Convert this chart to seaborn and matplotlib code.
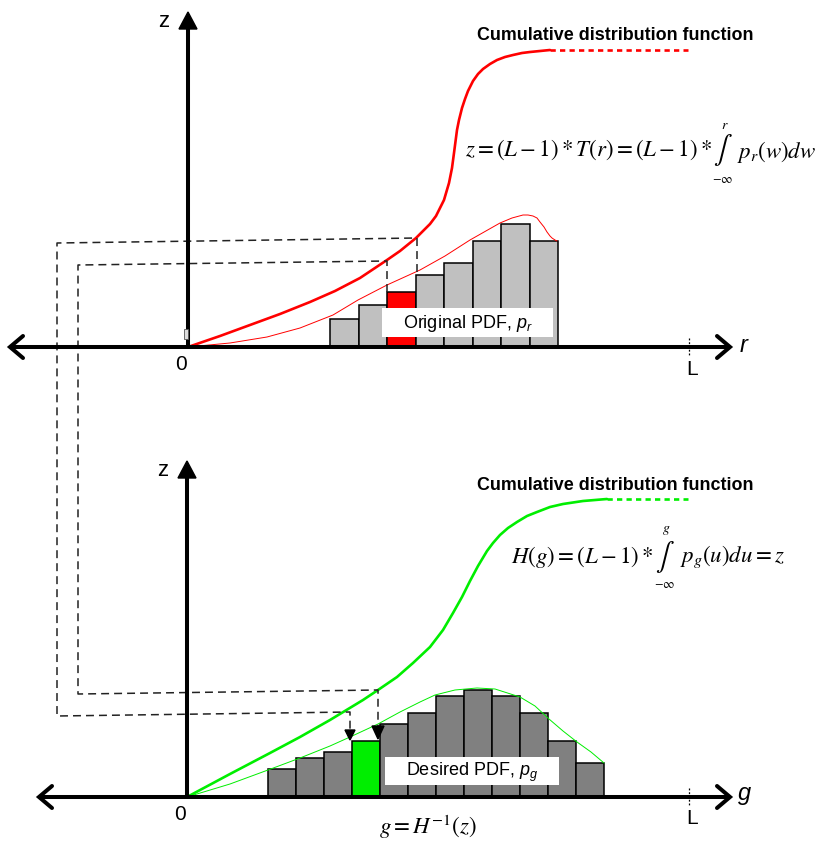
import numpy as np
import matplotlib
matplotlib.use("Agg")
import matplotlib.pyplot as plt
from matplotlib.patches import Rectangle, Polygon
import seaborn as sns

# ---------------- data ----------------
# Original histogram p_r (bar heights) and the highlighted bin
hist_r = [28, 42, 55, 72, 84, 106, 123, 106]
hist_r_highlight = 2
# Desired histogram p_g (bar heights) and the highlighted bin
hist_g = [28, 39, 45, 56, 73, 84, 101, 107, 101, 84, 56, 34]
hist_g_highlight = 3

# Cumulative distribution T(r) (drawing units)
cdf_r_x = [188, 220, 250, 280, 310, 335, 360, 387, 400, 416, 430, 436, 440,
           444, 449, 452, 454, 457, 459, 462, 465, 468, 473, 478, 483, 490,
           497, 505, 513, 522, 530, 540, 550]
cdf_r_y = [347, 336, 325, 314, 302, 291, 278, 260, 251, 238, 224, 216, 208,
           200, 183, 168, 153, 130, 120, 108, 99, 91, 81, 74, 69, 64,
           60, 57, 55, 53, 52, 51, 50]
# Continuous original pdf
pdf_r_x = [188, 230, 267, 300, 333, 358, 387, 420, 445, 470, 500, 512, 523,
           528, 533, 537, 540, 544, 547, 550, 552, 555, 557]
pdf_r_y = [347, 343, 337, 328, 315, 300, 285, 270, 256, 240, 223, 218, 215,
           215, 216, 218, 222, 227, 232, 236, 238, 240, 241]

# Cumulative distribution H(g)
cdf_g_x = [187, 230, 270, 300, 330, 363, 378, 397, 413, 430, 443, 453, 462,
           470, 478, 487, 493, 500, 508, 517, 527, 537, 550, 563, 583, 607]
cdf_g_y = [797, 774, 753, 737, 720, 700, 690, 677, 663, 647, 630, 613, 597,
           581, 566, 551, 543, 535, 528, 522, 516, 512, 507, 504, 501, 499]
# Continuous desired pdf
pdf_g_x = [187, 230, 268, 300, 330, 350, 378, 400, 420, 435, 455, 477, 495,
           520, 535, 549, 563, 577, 591, 604]
pdf_g_y = [797, 784, 770, 758, 746, 737, 724, 712, 702, 695, 690, 688, 689,
           697, 706, 719, 731, 742, 752, 763]

# ---------------- style ----------------
sns.set_theme(style="white")
plt.rcParams["font.family"] = ["Liberation Sans", "DejaVu Sans"]
plt.rcParams["mathtext.fontset"] = "custom"
plt.rcParams["mathtext.rm"] = "Liberation Sans"
plt.rcParams["mathtext.it"] = "Liberation Sans:italic"
plt.rcParams["mathtext.bf"] = "Liberation Sans:bold"

RED = "#ff0000"
GREEN = "#00ee00"
LIGHT = "#c0c0c0"
DARK = "#808080"

fig = plt.figure(figsize=(8.22, 8.41), dpi=100)
ax = fig.add_axes([0, 0, 1, 1])
ax.set_xlim(0, 822)
ax.set_ylim(841, 0)
ax.axis("off")

AX_LW = 2.9


def chevron(tip_x, y, direction):
    """Open arrow head made of two strokes."""
    dx = 13 * direction
    ax.plot([tip_x - dx, tip_x, tip_x - dx], [y - 11, y, y + 11],
            color="black", lw=AX_LW, solid_capstyle="round",
            solid_joinstyle="miter", zorder=6)


def up_arrow(x, tip_y, base_y, half):
    ax.add_patch(Polygon([(x, tip_y), (x - half, base_y), (x + half, base_y)],
                         closed=True, color="black", zorder=6))


def histogram(heights, start, width, base, color, hl, hl_color):
    left = start + width * np.arange(len(heights))
    h = np.asarray(heights, dtype=float)
    colors = [hl_color if i == hl else color for i in range(len(h))]
    ax.bar(left, h, width=width, bottom=base - h, align="edge",
           color=colors, edgecolor="black", linewidth=1.1, zorder=2)


def panel(base, axis_left, z_x, z_tip, ax_label, hist, hl, bar_start,
          bar_w, bar_color, hl_color, cdf_x, cdf_y, pdf_x, pdf_y, curve,
          plateau_end, box, box_text, title_y):
    # horizontal axis
    ax.plot([axis_left, 728], [base, base], color="black", lw=AX_LW,
            solid_capstyle="butt", zorder=5)
    chevron(axis_left, base, -1)
    chevron(730, base, 1)
    # vertical axis
    ax.plot([z_x, z_x], [base, z_tip + 14], color="black", lw=AX_LW,
            solid_capstyle="butt", zorder=5)
    up_arrow(z_x, z_tip, z_tip + 17, 9)
    ax.text(z_x - 24, z_tip + 9, "z", fontsize=16, ha="center",
            va="center", color="black")
    ax.text(z_x - 7, base + 17, "0", fontsize=15, ha="center",
            va="center", color="black")
    ax.text(744, base - 1, ax_label, fontsize=17, ha="center",
            va="center", color="black")
    # L tick
    ax.plot([689, 689], [base - 9, base + 9], color="black", lw=0.9,
            ls=(0, (1.5, 1.5)), zorder=6)
    ax.text(692, base + 22, "L", fontsize=15, ha="center", va="center",
            color="black")

    histogram(hist, bar_start, bar_w, base, bar_color, hl, hl_color)

    sns.lineplot(x=pdf_x, y=pdf_y, ax=ax, color=curve, linewidth=0.7,
                 estimator=None, sort=False, zorder=3,
                 solid_joinstyle="round")
    sns.lineplot(x=cdf_x, y=cdf_y, ax=ax, color=curve, linewidth=1.9,
                 estimator=None, sort=False, zorder=4,
                 solid_joinstyle="round")
    ax.plot([cdf_x[-1], plateau_end], [cdf_y[-1], cdf_y[-1]], color=curve,
            lw=1.9, ls=(0, (2.0, 1.6)), zorder=4)

    # label box
    bx0, by0, bx1, by1 = box
    ax.add_patch(Rectangle((bx0, by0), bx1 - bx0, by1 - by0,
                           facecolor="white", edgecolor="none", zorder=7))
    ax.text(bx0 + 21, (by0 + by1) / 2 + 1, box_text, fontsize=13,
            ha="left", va="center", color="black", zorder=8)

    ax.text(615, title_y, "Cumulative distribution function",
            fontsize=12.9, fontweight="bold", ha="center", va="center",
            color="black")


panel(347, 10, 188, 12, "$r$", hist_r, hist_r_highlight, 330, 28.5,
      LIGHT, RED, cdf_r_x, cdf_r_y, pdf_r_x, pdf_r_y, RED, 688,
      (382, 308, 553, 337), "Original PDF, $p_r$", 35)
panel(797, 39, 187, 461, "$g$", hist_g, hist_g_highlight, 268, 28,
      DARK, GREEN, cdf_g_x, cdf_g_y, pdf_g_x, pdf_g_y, GREEN, 688,
      (385, 757, 559, 785), "Desired PDF, $p_g$", 485)

# small marker on the upper z axis
ax.add_patch(Rectangle((184, 329), 4, 10, facecolor="#dddddd",
                       edgecolor="#555555", lw=0.6, zorder=6))

# mapping paths from T(r) to H(g)
DASH = dict(color="#222222", lw=1.1, ls=(0, (5.2, 3.3)), zorder=4)
ax.plot([417, 417, 57, 57, 350, 350], [272, 238, 243, 716, 712, 733], **DASH)
ax.plot([387, 387, 78, 78, 378, 378], [292, 261, 265, 694, 690, 728], **DASH)
ax.add_patch(Polygon([(350, 740), (345, 730), (355, 730)], closed=True,
                     color="black", zorder=6))
ax.add_patch(Polygon([(378, 739), (372, 726), (384, 726)], closed=True,
                     color="black", zorder=6))

# formulas
FS = 16.5
IFS = 20
MATH = dict(math_fontfamily="stix", color="black", va="center")
ax.text(712, 150, r"$z=(L-1)*T(r)=(L-1)*$", fontsize=FS, ha="right", **MATH)
ax.text(723, 150, r"$\int$", fontsize=IFS, ha="center", **MATH)
ax.text(725, 125, r"$r$", fontsize=10, ha="center", **MATH)
ax.text(723, 180, r"$-\infty$", fontsize=9, ha="center", **MATH)
ax.text(737, 152, r"$p_r(w)dw$", fontsize=FS, ha="left", **MATH)

ax.text(653, 557, r"$H(g)=(L-1)*$", fontsize=FS, ha="right", **MATH)
ax.text(665, 557, r"$\int$", fontsize=IFS, ha="center", **MATH)
ax.text(666, 530, r"$g$", fontsize=10, ha="center", **MATH)
ax.text(665, 585, r"$-\infty$", fontsize=9, ha="center", **MATH)
ax.text(680, 557, r"$p_g(u)du=z$", fontsize=FS, ha="left", **MATH)

ax.text(428, 827, r"$g=H^{-1}(z)$", fontsize=16.5, ha="center", **MATH)

fig.savefig("out.png", dpi=100, facecolor="white")
